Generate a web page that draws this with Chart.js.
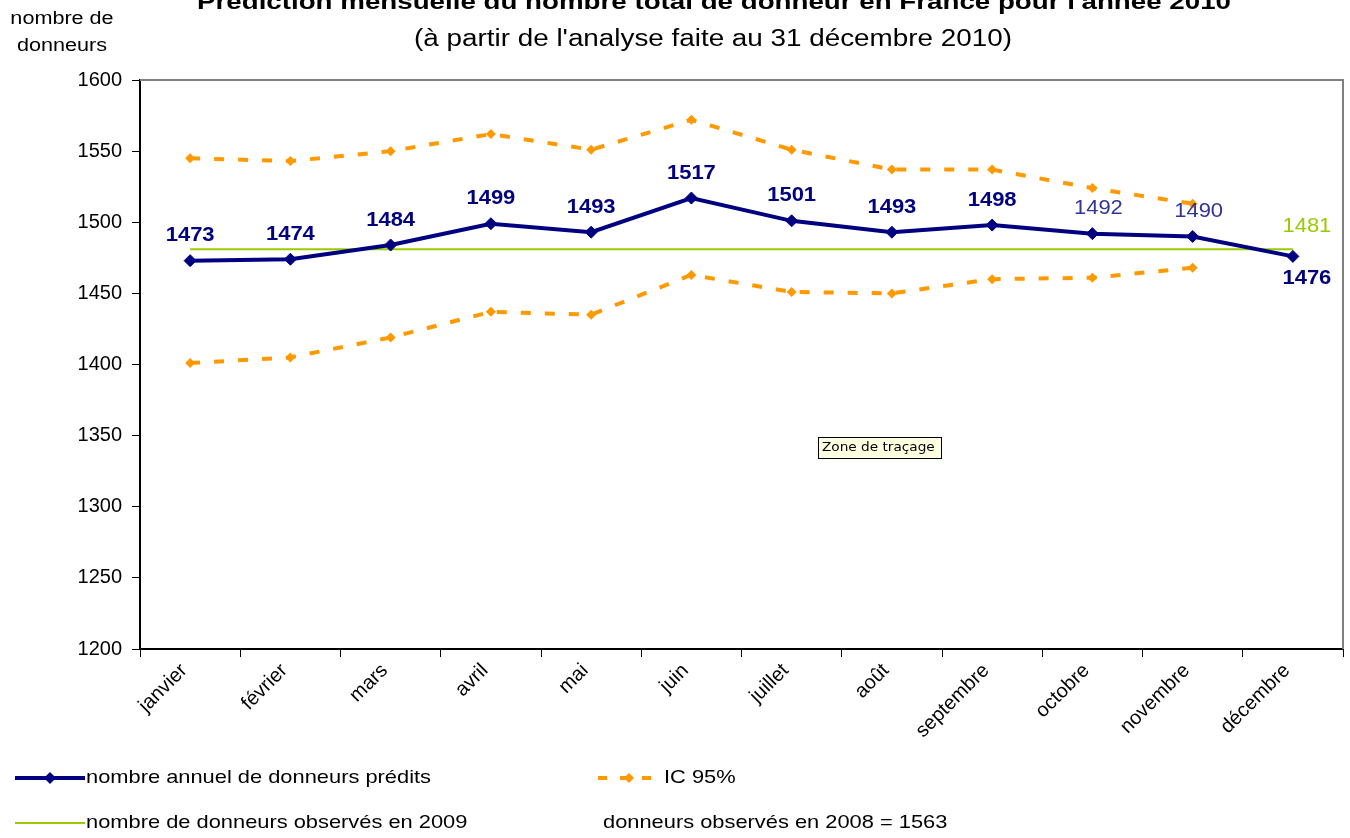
<!DOCTYPE html>
<html>
<head>
<meta charset="utf-8">
<script src="https://cdn.jsdelivr.net/npm/chart.js@4.4.1/dist/chart.umd.min.js"></script>
<style>
    html, body { margin: 0; padding: 0; background: #fff; }
    #wrap { width: 1350px; height: 838px; }
</style>
</head>
<body>
<div id="wrap"><canvas id="chart" width="1350" height="838"></canvas></div>
<script>
// données
const mois = ['janvier', 'février', 'mars', 'avril', 'mai', 'juin', 'juillet', 'août', 'septembre', 'octobre', 'novembre', 'décembre']
const predits = [1473, 1474, 1484, 1499, 1493, 1517, 1501, 1493, 1498, 1492, 1490, 1476]
const icHaut = [1545, 1543, 1550, 1562, 1551, 1572, 1551, 1537, 1537, 1524, 1513, null]
const icBas = [1401, 1405, 1419, 1437, 1435, 1463, 1451, 1450, 1460, 1461, 1468, null]
const observes2009 = [1481, 1481, 1481, 1481, 1481, 1481, 1481, 1481, 1481, 1481, 1481, 1481]
const yTicks = [1200, 1250, 1300, 1350, 1400, 1450, 1500, 1550, 1600]

const FONT = '"Liberation Sans", Arial, sans-serif'
const NAVY = '#000080'
const ORANGE = '#FF9900'
const GREEN = '#99CC00'

// texte étiré horizontalement (l'image d'origine est élargie)
function texte(ctx, str, x, y, sx) {
    ctx.save()
    ctx.translate(x, y)
    ctx.scale(sx, 1)
    ctx.fillText(str, 0, 0)
    ctx.restore()
}

const decor = {
    id: 'decor',
    afterDatasetsDraw(chart) {
        const ctx = chart.ctx
        const area = chart.chartArea
        ctx.save()

        // cadre haut / droite
        ctx.strokeStyle = '#808080'
        ctx.lineWidth = 2
        ctx.beginPath()
        ctx.moveTo(area.left, area.top)
        ctx.lineTo(area.right, area.top)
        ctx.lineTo(area.right, area.bottom)
        ctx.stroke()

        // étiquettes de la série prédite
        const meta = chart.getDatasetMeta(0)
        ctx.textAlign = 'center'
        ctx.textBaseline = 'middle'
        meta.data.forEach((pt, i) => {
            const last = i === predits.length - 1
            const light = i === 9 || i === 10
            ctx.font = (light ? '' : 'bold ') + '20px ' + FONT
            ctx.fillStyle = light ? '#333399' : NAVY
            const dx = light ? 6 : (last ? 14 : 0)
            const dy = last ? 22 : -25
            texte(ctx, String(predits[i]), pt.x + dx, pt.y + dy, 1.1)
        })

        // étiquette de la ligne 2009
        const g = chart.getDatasetMeta(3).data
        const gp = g[g.length - 1]
        ctx.font = '20px ' + FONT
        ctx.fillStyle = GREEN
        texte(ctx, String(observes2009[observes2009.length - 1]), gp.x + 14, gp.y - 23, 1.1)

        ctx.restore()
    },
    afterDraw(chart) {
        const ctx = chart.ctx
        ctx.save()
        ctx.fillStyle = '#000'
        ctx.textAlign = 'center'
        ctx.textBaseline = 'middle'

        ctx.font = 'bold 22px ' + FONT
        texte(ctx, "Prédiction mensuelle du nombre total de donneur en France pour l'année 2010", 714, 3, 1.26)
        ctx.font = '23px ' + FONT
        texte(ctx, "(à partir de l'analyse faite au 31 décembre 2010)", 713, 40, 1.21)

        ctx.font = '18px ' + FONT
        texte(ctx, 'nombre de', 62, 19, 1.2)
        texte(ctx, 'donneurs', 62, 46, 1.2)

        // légende
        ctx.textAlign = 'left'
        ctx.lineWidth = 4
        ctx.strokeStyle = NAVY
        ctx.beginPath(); ctx.moveTo(15, 778); ctx.lineTo(85, 778); ctx.stroke()
        ctx.fillStyle = NAVY
        ctx.beginPath()
        ctx.moveTo(50, 772); ctx.lineTo(56, 778); ctx.lineTo(50, 784); ctx.lineTo(44, 778)
        ctx.closePath(); ctx.fill()

        ctx.strokeStyle = ORANGE
        ctx.setLineDash([9, 13])
        ctx.beginPath(); ctx.moveTo(598, 778); ctx.lineTo(662, 778); ctx.stroke()
        ctx.setLineDash([])
        ctx.fillStyle = ORANGE
        ctx.beginPath()
        ctx.moveTo(629, 773); ctx.lineTo(634, 778); ctx.lineTo(629, 783); ctx.lineTo(624, 778)
        ctx.closePath(); ctx.fill()

        ctx.lineWidth = 2
        ctx.strokeStyle = GREEN
        ctx.beginPath(); ctx.moveTo(15, 823); ctx.lineTo(85, 823); ctx.stroke()

        ctx.fillStyle = '#000'
        ctx.font = '19px ' + FONT
        texte(ctx, 'nombre annuel de donneurs prédits', 86, 778, 1.15)
        texte(ctx, 'IC 95%', 664, 778, 1.15)
        texte(ctx, 'nombre de donneurs observés en 2009', 86, 823, 1.15)
        texte(ctx, 'donneurs observés en 2008 = 1563', 603, 823, 1.15)

        // info-bulle Excel
        ctx.fillStyle = '#FFFFE1'
        ctx.fillRect(818, 437, 124, 22)
        ctx.strokeStyle = '#000'
        ctx.lineWidth = 1
        ctx.strokeRect(818.5, 437.5, 123, 21)
        ctx.fillStyle = '#000'
        ctx.font = '13px "DejaVu Sans", sans-serif'
        texte(ctx, 'Zone de traçage', 822, 448, 1.05)

        ctx.restore()
    }
}

const chart = new Chart(document.getElementById('chart'), {
    type: 'line',
    data: {
        labels: mois,
        datasets: [
            {
                label: 'nombre annuel de donneurs prédits',
                data: predits,
                borderColor: NAVY,
                backgroundColor: NAVY,
                borderWidth: 4,
                pointStyle: 'rectRot',
                pointRadius: 6,
                pointBorderWidth: 1,
                tension: 0,
                order: 0
            },
            {
                label: 'IC 95%',
                data: icHaut,
                borderColor: ORANGE,
                backgroundColor: ORANGE,
                borderWidth: 4,
                borderDash: [10, 14],
                pointStyle: 'rectRot',
                pointRadius: 5,
                pointBorderWidth: 0,
                order: 2
            },
            {
                label: 'IC 95% bas',
                data: icBas,
                borderColor: ORANGE,
                backgroundColor: ORANGE,
                borderWidth: 4,
                borderDash: [10, 14],
                pointStyle: 'rectRot',
                pointRadius: 5,
                pointBorderWidth: 0,
                order: 2
            },
            {
                label: 'nombre de donneurs observés en 2009',
                data: observes2009,
                borderColor: GREEN,
                backgroundColor: GREEN,
                borderWidth: 2,
                pointRadius: 0,
                order: 1
            }
        ]
    },
    options: {
        responsive: false,
        animation: false,
        layout: { padding: { top: 80, right: 6, left: 0, bottom: 0 } },
        plugins: {
            legend: { display: false },
            title: { display: false },
            tooltip: { enabled: false }
        },
        scales: {
            x: {
                offset: true,
                grid: { offset: true, drawOnChartArea: false, drawTicks: true, tickLength: 8, color: '#000' },
                border: { color: '#000', width: 2 },
                ticks: {
                    color: '#000',
                    font: { family: FONT, size: 20 },
                    maxRotation: 45,
                    minRotation: 45,
                    padding: 2,
                    labelOffset: -6,
                    autoSkip: false
                },
                afterFit(scale) { scale.height = 189 }
            },
            y: {
                min: 1200,
                max: 1600,
                afterBuildTicks(scale) { scale.ticks = yTicks.map(v => ({ value: v })) },
                grid: { drawOnChartArea: false, drawTicks: true, tickLength: 8, color: '#000' },
                border: { color: '#000', width: 2 },
                ticks: {
                    color: '#000',
                    font: { family: FONT, size: 20 },
                    padding: 10,
                    callback: v => String(v)
                },
                afterFit(scale) { scale.width = 140 }
            }
        }
    },
    plugins: [decor]
})
</script>
</body>
</html>
